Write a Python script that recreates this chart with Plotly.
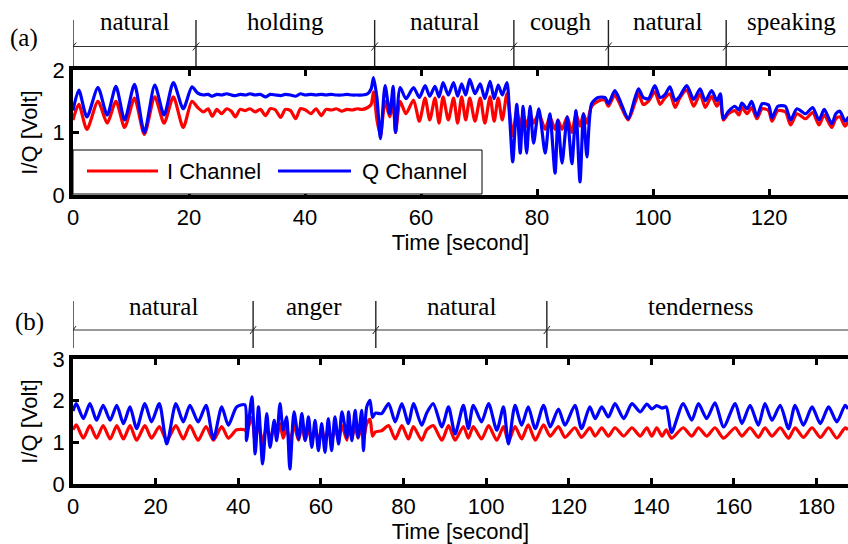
import plotly.graph_objects as go

# ---------------- panel (a): breathing I/Q signals ----------------
a_time = [
    0.0, 1.0, 2.4, 4.3, 5.9, 7.4, 8.9, 10.6, 12.3, 14.1, 15.7, 17.3, 19.0, 20.5, 21.5,
    22.5, 23.3, 24.0, 24.8, 25.6, 26.5, 27.3, 28.0, 28.8, 29.7, 30.5, 31.4, 32.3, 33.2, 34.0, 34.9, 35.8, 36.6,
    37.5, 38.4, 39.2, 40.1, 41.0, 41.9, 42.8, 43.6, 44.5, 45.4, 46.3, 47.2, 48.1, 49.0, 49.9, 50.8, 51.4,
    51.8, 52.4, 53.0, 53.8, 54.6, 55.2, 55.6, 56.4, 57.4, 58.7, 59.7, 60.7, 61.5, 62.4, 63.1, 63.8,
    64.7, 65.6, 66.3, 67.0, 67.7, 68.4, 69.3, 70.2, 71.0, 71.9, 72.6, 73.3, 74.0, 74.8, 75.3, 75.8,
    76.5, 77.1, 77.6, 78.2, 78.8, 79.4, 80.3, 81.4, 82.2, 83.1,
    83.6, 84.3, 85.2, 86.0, 86.7, 87.4, 88.0, 88.6, 89.4,
    90.5, 91.7, 92.3, 93.4, 94.3, 95.7, 96.9, 97.5, 98.3, 99.2, 100.3, 101.2,
    102.0, 102.9, 103.8, 104.6, 105.8, 107.0, 108.1, 109.0, 110.1, 111.0, 111.6, 112.1,
    113.0, 114.1, 114.8, 115.3, 116.2, 117.0, 117.9, 118.8, 119.9, 120.5, 121.5, 122.8,
    123.7, 124.8, 126.3, 127.5, 128.6, 129.5, 130.8, 131.5, 132.2, 133.1, 133.7,
]
a_i = [
    1.20, 1.45, 1.05, 1.50, 1.15, 1.50, 1.08, 1.55, 0.97, 1.57, 1.15, 1.57, 1.08, 1.50, 1.40,
    1.33, 1.38, 1.26, 1.37, 1.30, 1.38, 1.34, 1.25, 1.37, 1.35, 1.38, 1.33, 1.37, 1.27, 1.38, 1.36, 1.24, 1.37,
    1.35, 1.22, 1.38, 1.36, 1.30, 1.38, 1.27, 1.37, 1.36, 1.38, 1.34, 1.37, 1.36, 1.38, 1.37, 1.40, 1.45,
    1.65, 1.20, 0.95, 1.50, 1.25, 1.45, 1.00, 1.50, 1.30, 1.52, 1.18, 1.55, 1.20, 1.55, 1.15, 1.57,
    1.20, 1.55, 1.15, 1.57, 1.20, 1.55, 1.18, 1.55, 1.15, 1.57, 1.18, 1.55, 1.20, 1.62, 1.30, 0.95,
    1.35, 1.10, 1.30, 1.10, 1.30, 1.15, 1.30, 1.05, 1.25, 1.05,
    1.20, 1.05, 1.25, 1.00, 1.30, 1.10, 1.30, 1.15, 1.42,
    1.50, 1.52, 1.42, 1.60, 1.45, 1.20, 1.48, 1.62, 1.45, 1.50, 1.65, 1.45,
    1.55, 1.62, 1.40, 1.55, 1.68, 1.42, 1.62, 1.40, 1.58, 1.42, 1.52, 1.20,
    1.30, 1.35, 1.28, 1.40, 1.30, 1.40, 1.22, 1.38, 1.35, 1.18, 1.35, 1.33,
    1.12, 1.30, 1.22, 1.32, 1.12, 1.28, 1.08, 1.22, 1.25, 1.10, 1.20,
]
a_q = [
    1.35, 1.68, 1.25, 1.72, 1.28, 1.74, 1.20, 1.77, 1.00, 1.76, 1.28, 1.80, 1.38, 1.73, 1.63,
    1.60, 1.61, 1.58, 1.61, 1.60, 1.62, 1.60, 1.59, 1.61, 1.60, 1.62, 1.60, 1.61, 1.57, 1.61, 1.60, 1.59, 1.61,
    1.60, 1.58, 1.62, 1.60, 1.61, 1.60, 1.61, 1.60, 1.61, 1.60, 1.60, 1.61, 1.60, 1.60, 1.60, 1.62, 1.70,
    1.88, 1.55, 0.90, 1.75, 1.30, 1.74, 1.00, 1.72, 1.54, 1.72, 1.56, 1.75, 1.58, 1.74, 1.57, 1.80,
    1.60, 1.80, 1.58, 1.78, 1.60, 1.85, 1.62, 1.78, 1.54, 1.82, 1.54, 1.76, 1.60, 1.80, 1.20, 0.53,
    1.45, 0.67, 1.42, 0.67, 1.42, 0.83, 1.38, 0.67, 1.30, 0.35,
    1.20, 0.51, 1.25, 0.50, 1.35, 0.21, 1.30, 0.61, 1.46,
    1.56, 1.56, 1.46, 1.67, 1.51, 1.22, 1.56, 1.70, 1.56, 1.54, 1.75, 1.56,
    1.60, 1.73, 1.51, 1.58, 1.75, 1.53, 1.70, 1.51, 1.67, 1.51, 1.62, 1.22,
    1.34, 1.42, 1.36, 1.47, 1.38, 1.50, 1.26, 1.46, 1.44, 1.23, 1.42, 1.42,
    1.20, 1.38, 1.30, 1.40, 1.20, 1.37, 1.14, 1.30, 1.34, 1.18, 1.25,
]
a_sections = ["natural", "holding", "natural", "cough", "natural", "speaking"]
a_bounds = [0.0, 21.2, 52.0, 76.0, 92.3, 112.6, 135.0]
a_ticks = [0, 20, 40, 60, 80, 100, 120]
a_yticks = [0, 1, 2]

# ---------------- panel (b): emotional states ----------------
b_time = [
    0.0, 0.8, 2.5, 4.1, 5.7, 7.3, 9.0, 10.6, 12.2, 13.8, 15.4, 17.4, 19.0,
    20.9, 22.7, 24.9, 26.7, 28.3, 30.3, 32.2, 34.0, 36.0, 37.6, 39.6, 41.6,
    42.0, 43.3, 44.1, 44.9, 45.9, 46.9, 47.7, 48.7, 49.3, 50.1, 50.9, 51.7, 52.5, 53.5, 54.6, 55.4, 56.2,
    57.0, 57.8, 58.6, 59.4, 60.2, 61.0, 61.8, 62.6, 63.4, 64.3, 65.1, 66.3, 66.7, 67.5, 68.3, 69.0,
    69.9, 70.3, 71.1, 71.9, 72.5, 73.2,
    74.7, 76.4, 78.0, 79.6, 81.2, 82.4, 84.4, 85.6, 87.2, 89.3, 90.9, 92.5, 94.5,
    95.7, 96.9, 98.9, 100.6, 102.6, 104.2, 105.4, 107.0, 108.6, 110.2, 111.9, 113.9, 115.5,
    117.5, 119.1, 121.5, 123.1, 125.1, 126.4, 128.0, 129.6, 131.2, 133.3, 135.3, 137.3, 138.9,
    140.1, 141.3, 142.6, 143.6, 144.9, 147.7, 149.8,
    151.4, 153.4, 155.4, 157.5, 160.3, 161.9, 163.9, 165.9, 167.5, 169.2, 171.2, 173.2, 174.8,
    176.8, 178.9, 180.9, 182.9, 184.9, 186.9, 187.6,
]
b_i = [
    1.30, 1.42, 1.10, 1.40, 1.10, 1.40, 1.08, 1.40, 1.08, 1.40, 1.05, 1.40, 1.10,
    1.38, 1.05, 1.40, 1.08, 1.40, 1.05, 1.38, 1.05, 1.38, 1.10, 1.30, 1.30,
    1.25, 1.60, 1.00, 1.45, 1.00, 1.40, 1.05, 1.40, 1.10, 1.45, 1.10, 1.35, 1.00, 1.40, 1.05, 1.40, 1.05,
    1.35, 1.00, 1.35, 1.00, 1.35, 1.00, 1.35, 1.00, 1.35, 1.05, 1.40, 1.05, 1.40, 1.10, 1.40, 1.10,
    1.40, 1.05, 1.45, 1.55, 1.15, 1.25,
    1.28, 1.40, 1.08, 1.40, 1.08, 1.38, 1.05, 1.30, 1.40, 1.05, 1.40, 1.05, 1.38,
    1.10, 1.38, 1.08, 1.40, 1.05, 1.38, 1.02, 1.38, 1.08, 1.42, 1.05, 1.42, 1.15,
    1.38, 1.12, 1.35, 1.12, 1.35, 1.15, 1.35, 1.15, 1.35, 1.15, 1.35, 1.15, 1.35,
    1.15, 1.35, 1.15, 1.30, 1.10, 1.35, 1.15,
    1.35, 1.15, 1.35, 1.10, 1.35, 1.15, 1.35, 1.12, 1.35, 1.15, 1.35, 1.10, 1.35,
    1.12, 1.35, 1.12, 1.35, 1.10, 1.35, 1.30,
]
b_q = [
    1.75, 1.93, 1.57, 1.93, 1.53, 1.89, 1.53, 1.89, 1.45, 1.85, 1.33, 1.93, 1.49,
    1.93, 0.96, 1.93, 1.49, 1.89, 1.49, 1.89, 1.08, 1.85, 1.41, 1.85, 1.90,
    1.04, 2.09, 0.72, 1.85, 0.48, 1.69, 0.88, 1.53, 1.04, 1.93, 1.29, 1.61, 0.36, 1.73, 1.08, 1.69, 1.04,
    1.61, 0.88, 1.53, 0.80, 1.45, 0.76, 1.57, 0.80, 1.61, 0.96, 1.73, 1.12, 1.73, 1.04, 1.77, 1.12,
    1.77, 0.80, 1.85, 2.01, 1.60, 1.70,
    1.69, 1.93, 1.49, 1.93, 1.45, 1.93, 1.41, 1.70, 1.93, 1.37, 1.85, 1.20, 1.89,
    1.33, 1.89, 1.49, 1.93, 1.29, 1.85, 0.96, 1.89, 1.41, 1.85, 1.33, 1.89, 1.37,
    1.80, 1.41, 1.89, 1.33, 1.85, 1.57, 1.85, 1.61, 1.93, 1.57, 1.93, 1.73, 1.92,
    1.80, 1.88, 1.82, 1.85, 1.24, 1.93, 1.53,
    1.93, 1.57, 1.95, 1.37, 1.93, 1.45, 1.89, 1.41, 1.93, 1.53, 1.89, 1.33, 1.89,
    1.41, 1.85, 1.45, 1.85, 1.49, 1.89, 1.80,
]
b_sections = ["natural", "anger", "natural", "tenderness"]
b_bounds = [0.0, 43.6, 73.3, 114.7, 189.4]
b_ticks = [0, 20, 40, 60, 80, 100, 120, 140, 160, 180]
b_yticks = [0, 1, 2, 3]

# ---------------- layout helpers (pixel -> paper) ----------------
W, H = 848, 544


def px(x):
    return x / W


def py(y):
    return 1 - y / H


SANS = "Liberation Sans, Arial, sans-serif"
SERIF = "Liberation Serif, Times New Roman, serif"
RED = "#ff0000"
BLUE = "#0000ff"
LW = 3.2

fig = go.Figure()
for xa, ya, t, i_vals, q_vals in [("x", "y", a_time, a_i, a_q),
                                   ("x2", "y2", b_time, b_i, b_q)]:
    fig.add_trace(go.Scatter(x=t, y=i_vals, mode="lines", name="I Channel",
                             line=dict(color=RED, width=LW, shape="spline", smoothing=0.7),
                             xaxis=xa, yaxis=ya, showlegend=False, hoverinfo="skip"))
    fig.add_trace(go.Scatter(x=t, y=q_vals, mode="lines", name="Q Channel",
                             line=dict(color=BLUE, width=LW, shape="spline", smoothing=0.7),
                             xaxis=xa, yaxis=ya, showlegend=False, hoverinfo="skip"))


def xaxis_cfg(rng, ticks, anchor):
    return dict(domain=[px(73), 1.0], range=rng, anchor=anchor, automargin=False,
                showline=True, linewidth=3.5, linecolor="black", mirror="ticks",
                ticks="inside", ticklen=6, tickwidth=2.5, tickcolor="black",
                tickvals=ticks, showgrid=False, zeroline=False,
                tickfont=dict(family=SANS, size=22, color="black"),
                title=dict(text="Time [second]", standoff=6,
                           font=dict(family=SANS, size=22, color="black")))


def yaxis_cfg(dom, rng, ticks, anchor):
    return dict(domain=dom, range=rng, anchor=anchor, automargin=False,
                showline=True, linewidth=3.5, linecolor="black", mirror=False,
                ticks="inside", ticklen=6, tickwidth=2.5, tickcolor="black",
                tickvals=ticks, showgrid=False, zeroline=False,
                tickfont=dict(family=SANS, size=22, color="black"),
                title=dict(text="I/Q [Volt]", standoff=10,
                           font=dict(family=SANS, size=22, color="black")))


shapes = []
annotations = []


def add_sections(names, bounds, xref, line_y, sep_top, sep_bot, text_y, dt):
    # horizontal bracket line
    shapes.append(dict(type="line", xref="paper", yref="paper",
                       x0=px(73), x1=1.0, y0=py(line_y), y1=py(line_y),
                       line=dict(color="#333333", width=1)))
    for b in bounds[:-1]:
        shapes.append(dict(type="line", xref=xref, yref="paper",
                           x0=b, x1=b, y0=py(sep_bot), y1=py(sep_top),
                           line=dict(color="#222222", width=1.4)))
        shapes.append(dict(type="line", xref=xref, yref="paper",
                           x0=b - dt, x1=b + dt, y0=py(line_y + 4), y1=py(line_y - 4),
                           line=dict(color="#222222", width=1)))
    for k, name in enumerate(names):
        annotations.append(dict(text=name, xref=xref, yref="paper",
                                x=(bounds[k] + bounds[k + 1]) / 2, y=py(text_y),
                                showarrow=False, xanchor="center", yanchor="middle",
                                font=dict(family=SERIF, size=25, color="black")))


add_sections(a_sections, a_bounds, "x", 46.5, 20, 66, 22, 0.55)
add_sections(b_sections, b_bounds, "x2", 330, 301, 348, 306, 0.75)

annotations.append(dict(text="(a)", xref="paper", yref="paper", x=px(24), y=py(38),
                        showarrow=False, xanchor="center", yanchor="middle",
                        font=dict(family=SERIF, size=25, color="black")))
annotations.append(dict(text="(b)", xref="paper", yref="paper", x=px(29), y=py(322),
                        showarrow=False, xanchor="center", yanchor="middle",
                        font=dict(family=SERIF, size=25, color="black")))

# legend box inside panel (a)
shapes.append(dict(type="rect", xref="paper", yref="paper", layer="above",
                   x0=px(73), x1=px(482), y0=py(194), y1=py(150),
                   fillcolor="white", line=dict(color="black", width=1)))
shapes.append(dict(type="line", xref="paper", yref="paper", layer="above",
                   x0=px(87), x1=px(158), y0=py(171), y1=py(171),
                   line=dict(color=RED, width=LW)))
shapes.append(dict(type="line", xref="paper", yref="paper", layer="above",
                   x0=px(278), x1=px(351), y0=py(171), y1=py(171),
                   line=dict(color=BLUE, width=LW)))
annotations.append(dict(text="I Channel", xref="paper", yref="paper", x=px(165), y=py(171),
                        showarrow=False, xanchor="left", yanchor="middle",
                        font=dict(family=SANS, size=22, color="black")))
annotations.append(dict(text="Q Channel", xref="paper", yref="paper", x=px(360), y=py(171),
                        showarrow=False, xanchor="left", yanchor="middle",
                        font=dict(family=SANS, size=22, color="black")))

fig.update_layout(
    template="none",
    width=W, height=H,
    margin=dict(l=0, r=0, t=0, b=0, autoexpand=False),
    paper_bgcolor="white", plot_bgcolor="white",
    xaxis=xaxis_cfg([0, 133.6], a_ticks, "y"),
    yaxis=yaxis_cfg([py(195), py(70)], [0, 2], a_yticks, "x"),
    xaxis2=xaxis_cfg([0, 187.6], b_ticks, "y2"),
    yaxis2=yaxis_cfg([py(484), py(359)], [0, 3], b_yticks, "x2"),
    shapes=shapes,
    annotations=annotations,
    showlegend=False,
)

fig.write_html("out.html")
